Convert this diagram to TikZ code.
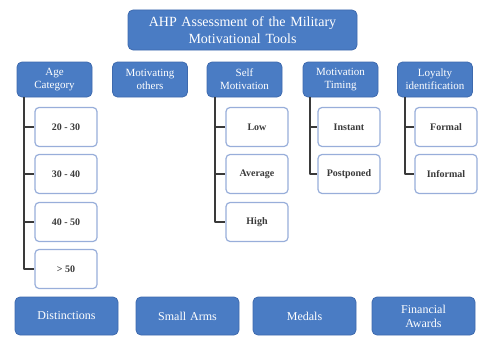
\documentclass[tikz,border=0pt]{standalone}
\usepackage{fontspec}
\setmainfont{Liberation Serif}
\usepackage{tikz}
\usetikzlibrary{
  arrows.meta,   % arrow tips
  calc,          % coordinate calculations
  positioning    % relative placement
}

\definecolor{toolblue}{HTML}{4A7CC4}
\definecolor{tooledge}{HTML}{3E6AAE}
\definecolor{leafedge}{HTML}{98AEDA}
\definecolor{treegray}{HTML}{3A3A3A}

\begin{document}
\begin{tikzpicture}[x=1pt, y=-1pt, line join=round, line cap=round]
  % shared looks: blue heading boxes, white leaf boxes, tree lines
  \tikzset{
    bluebox/.style={draw=tooledge, fill=toolblue, line width=0.8pt, rounded corners=5pt,
      text=white, align=center, inner sep=0pt, font=\fontsize{11}{13}\selectfont},
    leafbox/.style={draw=leafedge, fill=white, line width=1.2pt, rounded corners=4pt,
      text=treegray, align=center, inner sep=0pt, minimum width=62pt, minimum height=39pt,
      font=\fontsize{10}{12}\selectfont\bfseries},
    tree line/.style={draw=treegray, line width=1.3pt, line cap=butt}
  }

  % page frame
  \useasboundingbox (0,0) rectangle (478,337);

  % =======================
  % title
  % =======================
  \node[bluebox, minimum width=229pt, minimum height=40pt, text width=220pt,
        font=\fontsize{14}{17}\selectfont] (title) at (242.5,30)
        {AHP Assessment of the Military\\Motivational Tools};

  % =======================
  % heading row
  % =======================
  \node[bluebox, minimum width=75pt, minimum height=35pt, text width=72pt] (age) at (54.5,79.5) {Age\\Category};
  \node[bluebox, minimum width=75pt, minimum height=35pt, text width=72pt] (others) at (150,79.5) {Motivating\\others};
  \node[bluebox, minimum width=75pt, minimum height=35pt, text width=72pt] (self) at (244.5,79.5) {Self\\Motivation};
  \node[bluebox, minimum width=75pt, minimum height=35pt, text width=72pt] (timing) at (340.5,79.5) {Motivation\\Timing};
  \node[bluebox, minimum width=75pt, minimum height=35pt, text width=72pt] (loyal) at (435,79.5) {Loyalty\\identification};

  % =======================
  % leaves under each heading
  % =======================
  \node[leafbox] (age1) at (66,127) {20 - 30};
  \node[leafbox] (age2) at (66,174) {30 - 40};
  \node[leafbox] (age3) at (66,222) {40 - 50};
  \node[leafbox] (age4) at (66,269) {> 50};

  \node[leafbox] (self1) at (257,127) {Low};
  \node[leafbox] (self2) at (257,174) {Average};
  \node[leafbox] (self3) at (257,222) {High};

  \node[leafbox] (time1) at (349,127) {Instant};
  \node[leafbox] (time2) at (349,174) {Postponed};

  \node[leafbox] (loyal1) at (446,127) {Formal};
  \node[leafbox] (loyal2) at (446,174) {Informal};

  % tree lines: drop from the heading, then step into each leaf
  \coordinate (ageL) at (24,97);
  \coordinate (selfL) at (215,97);
  \coordinate (timeL) at (310,97);
  \coordinate (loyalL) at (405,97);
  \foreach \leaf in {age1,age2,age3,age4}
    \draw[tree line] (ageL) |- (\leaf.west);
  \foreach \leaf in {self1,self2,self3}
    \draw[tree line] (selfL) |- (\leaf.west);
  \foreach \leaf in {time1,time2}
    \draw[tree line] (timeL) |- (\leaf.west);
  \foreach \leaf in {loyal1,loyal2}
    \draw[tree line] (loyalL) |- (\leaf.west);

  % =======================
  % bottom row of tools
  % =======================
  \node[bluebox, minimum width=103pt, minimum height=38pt, text width=98pt,
        font=\fontsize{12}{14}\selectfont] (dist) at (66.5,316) {Distinctions};
  \node[bluebox, minimum width=103pt, minimum height=38pt, text width=98pt,
        font=\fontsize{12}{14}\selectfont] (arms) at (187.5,316) {Small Arms};
  \node[bluebox, minimum width=103pt, minimum height=38pt, text width=98pt,
        font=\fontsize{12}{14}\selectfont] (medals) at (304.5,316) {Medals};
  \node[bluebox, minimum width=103pt, minimum height=38pt, text width=98pt,
        font=\fontsize{12}{14}\selectfont] (money) at (423.5,316) {Financial\\Awards};
\end{tikzpicture}
\end{document}
